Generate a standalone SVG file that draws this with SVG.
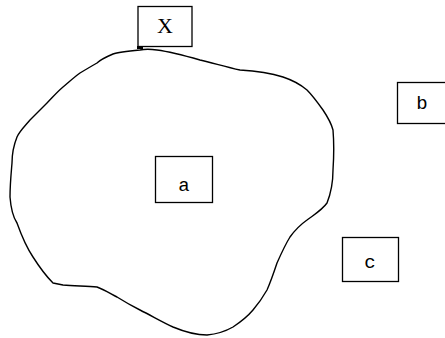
<svg xmlns="http://www.w3.org/2000/svg" width="445" height="338" viewBox="0 0 445 338">
  <style>
    .box { fill: #fff; stroke: #000; stroke-width: 1.3; }
    .lbl { font-family: "Liberation Mono", "DejaVu Sans Mono", monospace; font-size: 19px; fill: #000; text-anchor: middle; }
    .blob { fill: none; stroke: #000; stroke-width: 1.4; stroke-linejoin: round; }
  </style>
  <rect width="445" height="338" fill="#fff"/>
  <!-- irregular region -->
  <g id="region">
    <path class="blob" d="M140,50 C128,51 118,52 113,54 C106,57 100,60 97,63 C90,67 85,70 80,73 C73,78 68,83 63,87 C56,93 52,98 47,103 C40,110 35,115 30,120 C24,127 19,132 17,137 C13,147 12,155 12,163 C11,175 10,185 10,197 C11,210 13,217 17,223 C22,237 27,248 33,257 C40,268 47,277 53,283 L63,285 C75,286 87,286 97,287 C105,290 111,294 117,297 C125,302 132,306 140,310 C152,316 162,322 173,327 C185,332 197,335 207,335 C218,334 226,331 233,327 C242,321 248,316 253,310 C259,303 263,297 267,290 C271,281 274,272 277,263 C281,254 285,245 290,237 C295,230 300,225 307,220 C315,214 322,210 327,203 C331,193 333,182 333,170 C334,155 334,142 333,130 C331,122 327,116 323,110 C318,103 313,96 307,90 C300,84 292,80 283,77 C270,73 255,71 240,70 C226,67 213,63 200,60 C186,56 172,52 157,50 C150,49 145,49 140,50 Z"/>
    <rect x="137" y="46" width="6" height="3" fill="#000"/>
  </g>
  <g id="node-X">
    <rect class="box" x="138" y="6.5" width="54" height="40"/>
    <text class="lbl" x="165" y="33" style="font-family:'Liberation Serif',serif;font-size:22px">X</text>
  </g>
  <g id="node-a">
    <rect class="box" x="155.5" y="156.5" width="57" height="46"/>
    <text class="lbl" x="184" y="191">a</text>
  </g>
  <g id="node-b">
    <rect class="box" x="397.5" y="82.5" width="50" height="41"/>
    <text class="lbl" x="422" y="109">b</text>
  </g>
  <g id="node-c">
    <rect class="box" x="342.5" y="237.5" width="56" height="44"/>
    <text class="lbl" x="370" y="268">c</text>
  </g>
  <g id="connectors"></g>
</svg>
